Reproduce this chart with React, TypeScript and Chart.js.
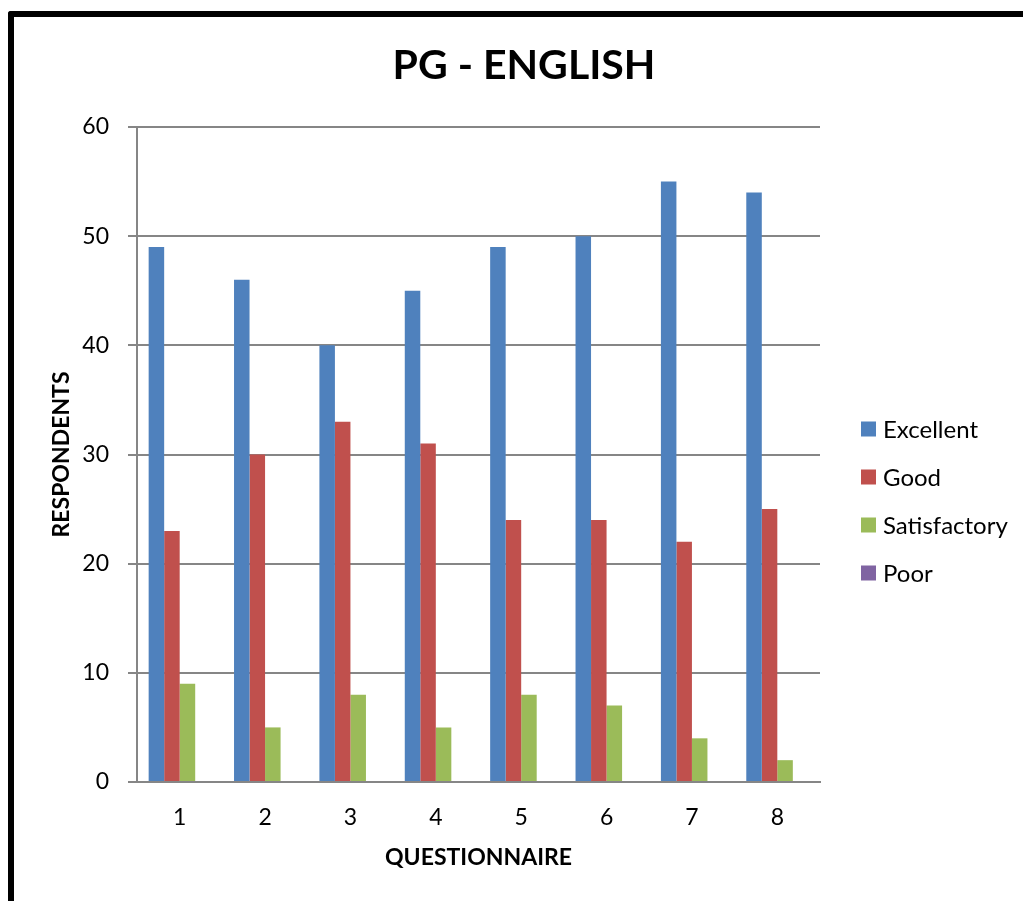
import React, { useEffect, useRef } from "react";
import { Chart, registerables } from "chart.js";

Chart.register(...registerables);

const categories = ["1", "2", "3", "4", "5", "6", "7", "8"];
const seriesNames = ["Excellent", "Good", "Satisfactory", "Poor"];
const excellent = [49, 46, 40, 45, 49, 50, 55, 54];
const good = [23, 30, 33, 31, 24, 24, 22, 25];
const satisfactory = [9, 5, 8, 5, 8, 7, 4, 2];
const poor = [0, 0, 0, 0, 0, 0, 0, 0];
const seriesColors = ["#4F81BD", "#C0504D", "#9BBB59", "#8064A2"];
const chartTitle = "PG - ENGLISH";
const xTitle = "QUESTIONNAIRE";
const yTitle = "RESPONDENTS";
const yMin = 0;
const yMax = 60;
const yStep = 10;

const FONT = "Lato, 'Open Sans', sans-serif";

const overlayPlugin = {
  id: "overlay",
  afterDraw(chart: any) {
    const ctx = chart.ctx;
    ctx.save();
    // title
    ctx.fillStyle = "#000";
    ctx.font = `bold 41px ${FONT}`;
    ctx.textAlign = "center";
    ctx.textBaseline = "middle";
    ctx.fillText(chartTitle, 524, 66);
    // legend
    ctx.font = `24px ${FONT}`;
    ctx.textAlign = "left";
    chart.data.datasets.forEach((ds: any, i: number) => {
      const cy = 429 + 48 * i;
      ctx.fillStyle = ds.backgroundColor;
      ctx.fillRect(861, cy - 7.5, 15, 15);
      ctx.fillStyle = "#000";
      ctx.fillText(ds.label, 883, cy + 1);
    });
    ctx.restore();
  },
};

export default function App() {
  const ref = useRef<HTMLCanvasElement | null>(null);
  useEffect(() => {
    if (!ref.current) return;
    const data = [excellent, good, satisfactory, poor];
    const chart = new Chart(ref.current, {
      type: "bar",
      data: {
        labels: categories,
        datasets: seriesNames.map((name, i) => ({
          label: name,
          data: data[i],
          backgroundColor: seriesColors[i],
          borderWidth: 0,
          barPercentage: 1,
          categoryPercentage: 0.727,
        })),
      },
      options: {
        responsive: false,
        animation: false,
        layout: { padding: { left: 0, right: 203, top: 127, bottom: 0 } },
        plugins: {
          legend: { display: false },
          title: { display: false },
          tooltip: { enabled: false },
        },
        scales: {
          x: {
            grid: { display: false, drawTicks: false },
            border: { display: true, color: "#868686", width: 2 },
            ticks: { color: "#000", font: { family: FONT, size: 23 }, padding: 22 },
            title: {
              display: true,
              text: xTitle,
              color: "#000",
              font: { family: FONT, size: 23, weight: "bold" },
              padding: { top: 0, bottom: 30 },
            },
            afterFit: (s: any) => {
              s.height = 901 - 782;
            },
          },
          y: {
            min: yMin,
            max: yMax,
            ticks: {
              stepSize: yStep,
              color: "#000",
              font: { family: FONT, size: 23 },
              padding: 19,
            },
            grid: { color: "#868686", lineWidth: 2, tickLength: 9, drawTicks: true },
            border: { display: true, color: "#868686", width: 2 },
            title: {
              display: true,
              text: yTitle,
              color: "#000",
              font: { family: FONT, size: 23, weight: "bold" },
              padding: { top: 48, bottom: 0 },
            },
            afterFit: (s: any) => {
              s.width = 137;
            },
          },
        },
      },
      plugins: [overlayPlugin],
    });
    return () => chart.destroy();
  }, []);

  return (
    <div
      style={{
        position: "fixed",
        left: 0,
        top: 0,
        width: 1023,
        height: 901,
        overflow: "hidden",
        background: "#fff",
      }}
    >
      <div
        style={{
          position: "absolute",
          left: 8,
          top: 11,
          width: 1200,
          height: 1200,
          borderLeft: "6px solid #000",
          borderTop: "6px solid #000",
          borderTopLeftRadius: 3,
        }}
      />
      <canvas
        ref={ref}
        width={1023}
        height={901}
        style={{ position: "absolute", left: 0, top: 0, width: 1023, height: 901 }}
      />
    </div>
  );
}
